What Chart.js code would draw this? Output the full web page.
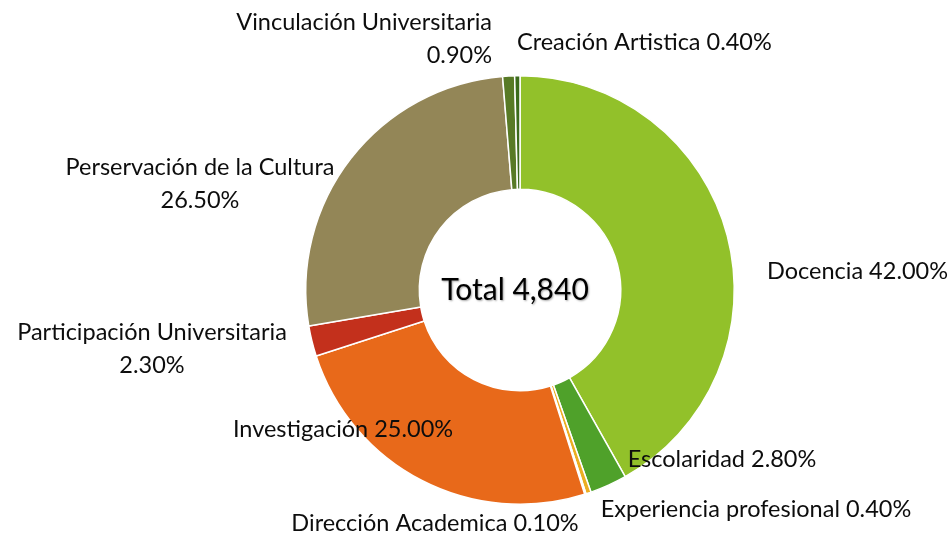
<!DOCTYPE html>
<html>
<head>
<meta charset="utf-8">
<script src="https://cdn.jsdelivr.net/npm/chart.js@4"></script>
<style>
  html, body { margin: 0; padding: 0; background: #ffffff; }
  #wrap { width: 951px; height: 533px; position: relative; }
</style>
</head>
<body>
<div id="wrap"><canvas id="c" width="951" height="533"></canvas></div>
<script>
const categories = [
  'Docencia', 'Escolaridad', 'Experiencia profesional', 'Dirección Academica',
  'Investigación', 'Participación Universitaria', 'Perservación de la Cultura',
  'Vinculación Universitaria', 'Creación Artistica'
];
const percentages = [42.0, 2.8, 0.4, 0.1, 25.0, 2.3, 26.5, 0.9, 0.4];
const totalLabel = 'Total 4,840';

const colors = ['#92C12A', '#4FA12A', '#EBAE22', '#F2C84A', '#E8691A', '#C3301C', '#938657', '#587A26', '#3B6B1C'];

// label layout: offsets from doughnut center, alignment, line split
const labelLayout = [
  { dx: 247, dy: -19, align: 'left', lines: 1 },
  { dx: 202, dy: 169, align: 'center', lines: 1 },
  { dx: 236, dy: 219, align: 'center', lines: 1 },
  { dx: -85, dy: 233, align: 'center', lines: 1 },
  { dx: -177, dy: 139, align: 'center', lines: 1 },
  { dx: -368, dy: 42, align: 'center', lines: 2 },
  { dx: -320, dy: -123, align: 'center', lines: 2 },
  { dx: -28, dy: -268, align: 'right', lines: 2 },
  { dx: -3, dy: -248, align: 'left', lines: 1 }
];

const FONT = 'Lato, "Open Sans", sans-serif';
const LABEL_SIZE = 23.5;
const LINE_H = 33;

const labelPlugin = {
  id: 'outLabels',
  afterDraw(chart) {
    const ctx = chart.ctx;
    const meta = chart.getDatasetMeta(0);
    const arc0 = meta.data[0];
    const cx = arc0.x, cy = arc0.y;
    ctx.save();
    ctx.fillStyle = '#0d0d0d';
    ctx.textBaseline = 'middle';
    ctx.font = LABEL_SIZE + 'px ' + FONT;
    categories.forEach((cat, i) => {
      const lay = labelLayout[i];
      const pct = percentages[i].toFixed(2) + '%';
      const lines = lay.lines === 2 ? [cat, pct] : [cat + ' ' + pct];
      ctx.textAlign = lay.align;
      lines.forEach((t, k) => {
        ctx.fillText(t, cx + lay.dx, cy + lay.dy + k * LINE_H);
      });
    });
    // center total
    ctx.font = '30px ' + FONT;
    ctx.textAlign = 'center';
    ctx.shadowColor = 'rgba(0,0,0,0.35)';
    ctx.shadowOffsetX = 1;
    ctx.shadowOffsetY = 1;
    ctx.shadowBlur = 2;
    ctx.fillStyle = '#000000';
    ctx.fillText(totalLabel, cx - 5, cy);
    ctx.restore();
  }
};

new Chart(document.getElementById('c'), {
  type: 'doughnut',
  data: {
    labels: categories,
    datasets: [{
      data: percentages,
      backgroundColor: colors,
      borderColor: '#ffffff',
      borderWidth: 1.5
    }]
  },
  options: {
    responsive: false,
    animation: false,
    cutout: '47%',
    rotation: 0,
    layout: { padding: { left: 200, right: 111, top: 75, bottom: 28 } },
    plugins: {
      legend: { display: false },
      tooltip: { enabled: false },
      title: { display: false }
    }
  },
  plugins: [labelPlugin]
});
</script>
</body>
</html>
